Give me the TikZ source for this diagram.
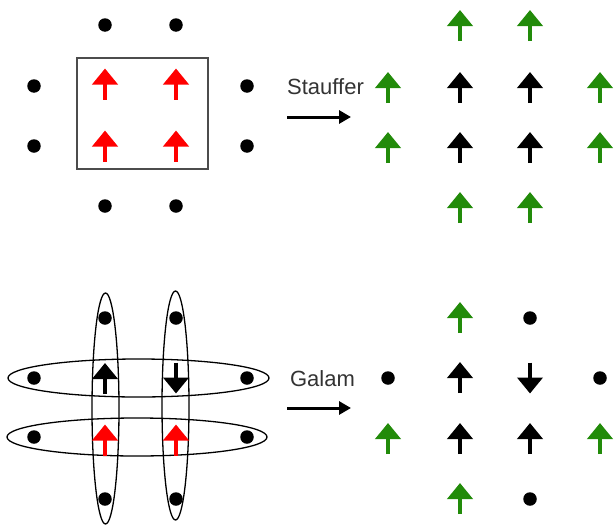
\documentclass[tikz,border=0pt]{standalone}
\usepackage{fontspec}
\setmainfont{Liberation Sans}
\usetikzlibrary{arrows.meta}
\definecolor{spingreen}{RGB}{34,139,10}
\tikzset{
  site/.style={circle, fill=black, inner sep=0pt, minimum size=13.5pt},
  spin/.style={line width=4pt, -{Triangle[length=16pt,width=25pt]}},
  up/.pic={\draw[spin] (0,15.5) -- (0,-15.5);},
  down/.pic={\draw[spin] (0,-15.5) -- (0,15.5);},
  flow/.style={line width=3pt, -{Triangle[length=12pt,width=13pt]}},
  rule/.style={font=\fontsize{22}{26}\selectfont, text=black!80, inner sep=0pt},
  group/.style={line width=1.3pt},
}
\begin{document}
\begin{tikzpicture}[x=1pt, y=-1pt]
  \useasboundingbox (0,0) rectangle (616,525);
  % Stauffer: before
  \node[site] (st1) at (105,25) {};
  \node[site] (st2) at (176,25) {};
  \node[site] (sl1) at (34,86) {};
  \node[site] (sl2) at (34,146) {};
  \node[site] (sr1) at (247,86) {};
  \node[site] (sr2) at (247,146) {};
  \node[site] (sb1) at (105,206) {};
  \node[site] (sb2) at (176,206) {};
  \draw[group, draw=black!70] (77,58) rectangle (208,169);
  \pic[red] at (105,84) {up};
  \pic[red] at (176,84) {up};
  \pic[red] at (105,146) {up};
  \pic[red] at (176,146) {up};
  % Stauffer: rule
  \node[rule] (stauffer) at (325.5,87) {Stauffer};
  \coordinate (sfrom) at (287,117);
  \coordinate (sto) at (351,117);
  \draw[flow] (sfrom) -- (sto);
  % Stauffer: after
  \pic[spingreen] at (460,25.5) {up};
  \pic[spingreen] at (530,25.5) {up};
  \pic[spingreen] at (388,87.5) {up};
  \pic at (460,87.5) {up};
  \pic at (530,87.5) {up};
  \pic[spingreen] at (600,87.5) {up};
  \pic[spingreen] at (388,147.5) {up};
  \pic at (460,147.5) {up};
  \pic at (530,147.5) {up};
  \pic[spingreen] at (600,147.5) {up};
  \pic[spingreen] at (460,207.5) {up};
  \pic[spingreen] at (530,207.5) {up};
  % Galam: before
  \draw[group] (105.5,408.5) ellipse [x radius=13.5pt, y radius=115.5pt];
  \draw[group] (175.5,405.5) ellipse [x radius=13.5pt, y radius=114.5pt];
  \draw[group] (138.5,378) ellipse [x radius=130.5pt, y radius=19pt];
  \draw[group] (137,437) ellipse [x radius=130pt, y radius=19pt];
  \node[site] (gt1) at (105,318) {};
  \node[site] (gt2) at (176,318) {};
  \node[site] (gl1) at (34,378) {};
  \node[site] (gl2) at (34,437) {};
  \node[site] (gr1) at (247,378) {};
  \node[site] (gr2) at (247,437) {};
  \node[site] (gb1) at (105,499) {};
  \node[site] (gb2) at (176,499) {};
  \pic at (105,378.5) {up};
  \pic at (176,378) {down};
  \pic[red] at (105,440) {up};
  \pic[red] at (176,440) {up};
  % Galam: rule
  \node[rule] (galam) at (322.5,379) {Galam};
  \coordinate (gfrom) at (287,408);
  \coordinate (gto) at (351,408);
  \draw[flow] (gfrom) -- (gto);
  % Galam: after
  \pic[spingreen] at (460,317.5) {up};
  \node[site] (ht) at (530,318) {};
  \node[site] (hl) at (388,378) {};
  \pic at (460,377.5) {up};
  \pic at (530,378) {down};
  \node[site] (hr) at (600,378) {};
  \pic[spingreen] at (388,438.5) {up};
  \pic at (460,438.5) {up};
  \pic at (530,438.5) {up};
  \pic[spingreen] at (600,438.5) {up};
  \pic[spingreen] at (460,498.5) {up};
  \node[site] (hb) at (530,499) {};
\end{tikzpicture}
\end{document}
